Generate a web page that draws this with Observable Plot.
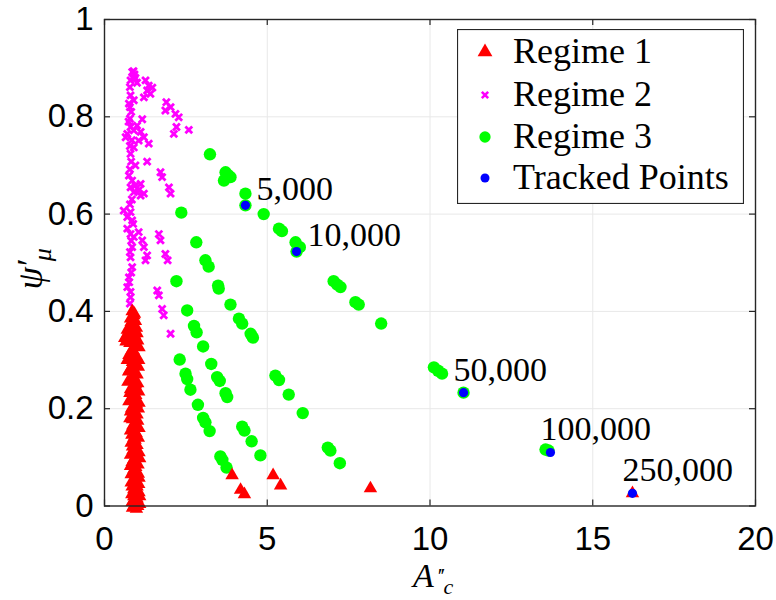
<!DOCTYPE html>
<html>
<head>
<meta charset="utf-8">
<script src="https://cdn.jsdelivr.net/npm/d3@7"></script>
<script src="https://cdn.jsdelivr.net/npm/@observablehq/plot@0.6"></script>
<style>
  body { margin: 0; background: white; }
  #wrap { position: relative; width: 776px; height: 600px; }
  #legend { position: absolute; left: 457px; top: 29px; }
</style>
</head>
<body>
<div id="wrap"></div>
<script>
// ---- data ----
const xTicks = [0, 5, 10, 15, 20];
const yTicks = [0, 0.2, 0.4, 0.6, 0.8, 1];

// Regime 1 (red triangles) [A''c, psi'mu]
const regime1 = [
  [0.85,0.400],[0.92,0.395],[0.80,0.385],[0.95,0.380],[0.88,0.370],[0.75,0.360],[1.00,0.355],
  [0.68,0.350],[0.62,0.345],[0.85,0.345],[1.02,0.340],[0.78,0.335],[0.95,0.330],[0.88,0.320],
  [0.75,0.310],[1.05,0.300],[0.82,0.300],[0.92,0.290],[0.78,0.280],[1.00,0.270],[0.85,0.265],
  [0.72,0.255],[0.95,0.250],[0.80,0.240],[1.05,0.235],[0.88,0.225],[0.75,0.215],[0.98,0.210],
  [0.83,0.200],[0.92,0.190],[0.78,0.180],[1.02,0.175],[0.87,0.165],[0.80,0.155],[0.97,0.150],
  [0.90,0.140],[0.82,0.130],[1.00,0.125],[0.88,0.115],[0.80,0.105],[0.95,0.100],[0.85,0.090],
  [1.03,0.085],[0.90,0.075],[0.82,0.065],[0.97,0.060],[0.88,0.050],[1.05,0.045],[0.85,0.040],
  [0.95,0.030],[0.90,0.020],[1.00,0.015],[0.88,0.010],[0.95,0.005],[1.02,0.000],[0.90,0.000],
  [0.85,0.008],[1.08,0.020],[1.06,0.110],[0.70,0.300],[1.04,0.200],
  [0.90,0.392],[0.82,0.378],[0.98,0.366],[0.70,0.362],[0.92,0.352],[0.66,0.338],[0.90,0.336],
  [1.06,0.326],[0.82,0.318],[0.96,0.308],[0.86,0.296],[1.04,0.286],[0.74,0.276],[0.92,0.272],
  [0.84,0.258],[1.02,0.252],[0.90,0.244],[0.78,0.232],[0.96,0.228],[0.84,0.218],[1.06,0.212],
  [0.90,0.204],[0.80,0.194],[1.00,0.188],[0.86,0.178],[0.94,0.170],[1.06,0.160],[0.84,0.146],
  [0.94,0.136],[1.04,0.140],[0.86,0.122],[0.96,0.114],[1.08,0.098],[0.90,0.096],[0.80,0.082],
  [0.96,0.080],[0.88,0.068],[1.04,0.066],[0.92,0.056],[0.82,0.048],[1.00,0.040],[0.90,0.034],
  [1.06,0.028],[0.84,0.024],[0.96,0.012],[1.08,0.004],[0.86,-0.004],[0.98,-0.006],[1.06,0.058],
  [3.92,0.063],[4.18,0.033],[4.30,0.024],[5.18,0.063],[5.41,0.042],[8.17,0.036],[16.22,0.026]
];

// Regime 2 (magenta crosses)
const regime2 = [
  [0.85,0.892],[0.89,0.894],[0.92,0.887],[0.87,0.880],[0.80,0.875],
  [1.26,0.875],[1.36,0.864],[1.47,0.860],[1.31,0.854],[1.41,0.847],[1.21,0.840],
  [0.78,0.861],[0.80,0.844],[0.75,0.827],[0.78,0.820],[0.90,0.834],
  [1.90,0.830],[1.87,0.813],[2.03,0.820],[2.18,0.806],[2.28,0.799],[2.21,0.779],[2.13,0.765],[2.59,0.773],
  [0.78,0.796],[0.80,0.779],[0.70,0.765],[0.65,0.758],[0.90,0.772],[1.00,0.782],[1.11,0.769],
  [1.21,0.758],[1.36,0.745],[0.90,0.737],[0.80,0.724],[1.05,0.751],
  [1.31,0.708],[1.72,0.686],[1.77,0.676],[1.98,0.655],[2.03,0.642],
  [0.75,0.679],[0.85,0.669],[0.80,0.655],[0.90,0.645],[1.11,0.662],[1.21,0.642],
  [0.95,0.659],[1.05,0.649],[1.11,0.638],
  [0.59,0.607],[0.70,0.594],[0.80,0.604],[0.85,0.587],
  [0.70,0.570],[0.80,0.559],[0.90,0.553],[1.05,0.563],[1.16,0.546],[1.21,0.532],[1.31,0.515],[1.26,0.505],
  [0.85,0.532],[0.80,0.511],[0.85,0.491],[0.75,0.470],[0.70,0.450],[0.80,0.429],[0.78,0.416],
  [1.67,0.559],[1.72,0.546],[1.87,0.518],[1.94,0.505],
  [1.62,0.443],[1.67,0.433],[1.77,0.405],[1.82,0.392],[2.03,0.354],
  [0.82,0.810],[0.74,0.790],[0.84,0.752],[0.78,0.740],[0.82,0.708],[0.78,0.692],[0.84,0.630],
  [0.78,0.620],[0.82,0.545],[0.78,0.522],[0.82,0.480],[0.76,0.460],[0.80,0.440],[0.95,0.880],
  [1.00,0.870],[1.16,0.795],[0.95,0.700],[0.88,0.580]
];

// Regime 3 (green circles)
const regime3 = [
  [3.24,0.723],[3.67,0.669],[3.72,0.686],[3.87,0.676],[3.80,0.680],[4.33,0.642],[4.33,0.618],
  [4.89,0.600],[5.36,0.570],[5.45,0.565],[5.87,0.542],[6.00,0.532],[5.90,0.523],
  [7.04,0.462],[7.15,0.455],[7.25,0.450],[7.71,0.419],[7.81,0.414],[8.50,0.375],
  [10.12,0.285],[10.25,0.278],[10.37,0.272],[11.03,0.233],[13.55,0.116],[13.64,0.114],
  [2.36,0.603],[2.82,0.542],[3.10,0.505],[3.20,0.492],[3.49,0.453],[3.51,0.447],[3.87,0.414],
  [4.13,0.385],[4.23,0.375],[4.49,0.354],[4.56,0.346],[5.25,0.268],[5.36,0.259],[5.66,0.229],
  [6.09,0.191],[6.86,0.120],[6.94,0.114],[7.23,0.088],
  [2.21,0.462],[2.54,0.402],[2.75,0.370],[2.83,0.357],[3.03,0.328],[3.28,0.292],[3.46,0.265],
  [3.54,0.257],[3.72,0.232],[3.77,0.224],[4.23,0.163],[4.30,0.155],[4.52,0.133],[4.79,0.104],
  [2.31,0.301],[2.49,0.272],[2.54,0.261],[2.64,0.239],[2.87,0.208],[3.03,0.181],[3.10,0.172],
  [3.23,0.154],[3.56,0.102],[3.62,0.095],[3.75,0.079]
];

// Tracked points
const trackedLabels = ["5,000", "10,000", "50,000", "100,000", "250,000"];
const trackedX = [4.33, 5.90, 11.03, 13.70, 16.22];
const trackedY = [0.618, 0.523, 0.233, 0.110, 0.026];

const legendLabels = ["Regime 1", "Regime 2", "Regime 3", "Tracked Points"];
const colors = {r1: "#ff0000", r2: "#ff00ff", r3: "#00ff00", tr: "#0000ff"};

// ---- build ----
const tracked = trackedLabels.map((t, i) => ({label: t, x: trackedX[i], y: trackedY[i]}));
const rightLabels = tracked.slice(0, 2);
const aboveLabels = tracked.slice(2);

const serif = "'Liberation Serif', 'Times New Roman', serif";
const sans = "'Liberation Sans', Arial, sans-serif";
const frameH = 600 - 19 - 94.5;
const frameW = 776 - 104 - 21;

const chart = Plot.plot({
  width: 776,
  height: 600,
  marginLeft: 104,
  marginRight: 21,
  marginTop: 19,
  marginBottom: 94.5,
  x: {domain: [0, 20]},
  y: {domain: [0, 1]},
  style: {fontFamily: sans, fontSize: "33px", color: "#000", background: "white", overflow: "visible"},
  marks: [
    Plot.gridX(xTicks.slice(1, -1), {stroke: "#e8e8e8", strokeOpacity: 1, strokeWidth: 1}),
    Plot.gridY(yTicks.slice(1, -1), {stroke: "#e8e8e8", strokeOpacity: 1, strokeWidth: 1}),
    Plot.dot(regime3, {x: d => d[0], y: d => d[1], r: 6.2, fill: colors.r3, stroke: "none"}),
    Plot.dot(regime2, {x: d => d[0], y: d => d[1], r: 3.2, symbol: "times", stroke: colors.r2, strokeWidth: 2.8}),
    Plot.dot(regime1, {x: d => d[0], y: d => d[1], r: 5, symbol: "triangle", fill: colors.r1, stroke: "none"}),
    Plot.dot(tracked, {x: "x", y: "y", r: 4.6, fill: colors.tr, stroke: "none"}),
    Plot.text(rightLabels, {x: "x", y: "y", text: "label", textAnchor: "start", dx: 11, dy: -16,
      fontFamily: serif, fontSize: 34, fill: "#000"}),
    Plot.text(aboveLabels, {x: "x", y: "y", text: "label", textAnchor: "start", dx: -10, dy: -23,
      fontFamily: serif, fontSize: 34, fill: "#000"}),
    Plot.frame({stroke: "#262626", strokeWidth: 1.4}),
    Plot.tickX(xTicks, {x: d => d, insetTop: frameH - 6, stroke: "#262626", strokeWidth: 1.2}),
    Plot.tickX(xTicks, {x: d => d, insetBottom: frameH - 6, stroke: "#262626", strokeWidth: 1.2}),
    Plot.tickY(yTicks, {y: d => d, insetRight: frameW - 6, stroke: "#262626", strokeWidth: 1.2}),
    Plot.tickY(yTicks, {y: d => d, insetLeft: frameW - 6, stroke: "#262626", strokeWidth: 1.2}),
    Plot.axisX({ticks: xTicks, tickSize: 0, tickPadding: 21, tickFormat: d => String(d), label: null,
      fontSize: 33, fontFamily: sans}),
    Plot.axisY({ticks: yTicks, tickSize: 0, tickPadding: 11, tickFormat: d => String(d), label: null,
      fontSize: 33, fontFamily: sans}),
    // x label A''_c (rebuilt with tspans below)
    Plot.text(["A"], {frameAnchor: "bottom", text: d => d, textAnchor: "start", dx: -17, dy: 81,
      fontFamily: serif, fontStyle: "italic", fontSize: 34, fill: "#000", className: "xlab"}),
    // y label psi'_mu (rebuilt with tspans below)
    Plot.text(["\u03c8"], {frameAnchor: "left", text: d => d, textAnchor: "middle", rotate: -90,
      dx: -74, dy: 6, fontFamily: serif, fontStyle: "italic", fontSize: 36, fill: "#000", className: "ylab"})
  ]
});

const wrap = document.getElementById("wrap");
wrap.appendChild(chart);

// axis label sub/superscripts (inline, one text element each)
{
  const t = d3.select(chart).select("g.xlab text");
  t.text(null);
  t.append("tspan").text("A");
  t.append("tspan").text("\u2032\u2032").attr("font-style", "normal").attr("font-size", 22)
    .attr("dx", 4).attr("dy", -4).attr("letter-spacing", -2);
  t.append("tspan").text("c").attr("font-size", 22).attr("dy", 11).attr("dx", 0);
}
{
  const t = d3.select(chart).select("g.ylab text");
  t.text(null);
  t.append("tspan").text("\u03c8");
  t.append("tspan").text("\u2032").attr("font-style", "normal").attr("dx", 1);
  t.append("tspan").text("\u03bc").attr("font-size", 26).attr("dy", 9).attr("dx", -3);
}

// ---- legend (overlay inside axes, top-right) ----
const lw = 287, lh = 175;
const leg = d3.select(wrap).append("svg").attr("id", "legend").attr("width", lw).attr("height", lh);
leg.append("rect").attr("x", 0.5).attr("y", 0.5).attr("width", lw - 1).attr("height", lh - 1)
  .attr("fill", "white").attr("stroke", "#262626").attr("stroke-width", 1.2);
const rowY = [23, 66, 108, 149];
const symDefs = [
  {type: d3.symbolTriangle, size: 95, fill: colors.r1},
  {type: d3.symbolTimes, size: 28, stroke: colors.r2},
  {type: d3.symbolCircle, size: 100, fill: colors.r3},
  {type: d3.symbolCircle, size: 64, fill: colors.tr}
];
legendLabels.forEach((lab, i) => {
  const s = symDefs[i];
  const p = leg.append("path").attr("d", d3.symbol(s.type, s.size)())
    .attr("transform", `translate(28,${rowY[i]})`);
  if (s.fill) p.attr("fill", s.fill).attr("stroke", "none");
  else p.attr("fill", "none").attr("stroke", s.stroke).attr("stroke-width", 2.6);
  leg.append("text").attr("x", 56).attr("y", rowY[i] + 11).text(lab)
    .attr("font-family", serif).attr("font-size", 36).attr("fill", "#000");
});
</script>
</body>
</html>
